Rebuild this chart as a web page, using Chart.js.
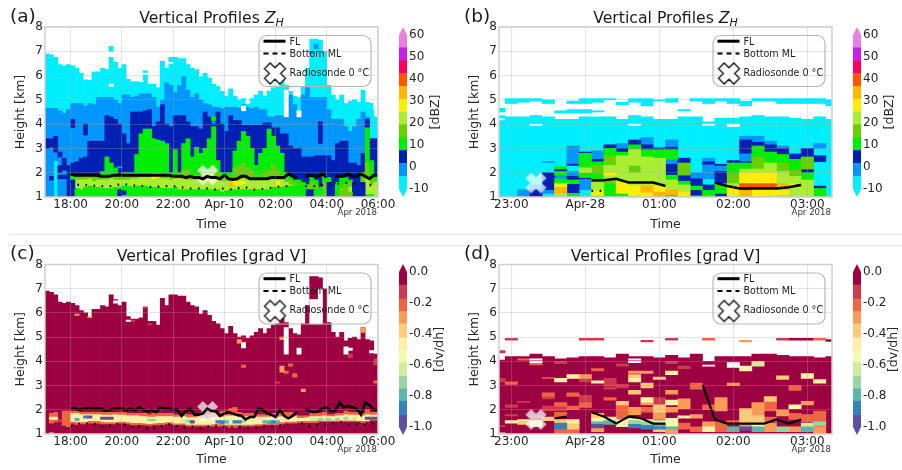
<!DOCTYPE html>
<html>
<head>
<meta charset="utf-8">
<title>Vertical Profiles</title>
<script src="https://cdn.jsdelivr.net/npm/chart.js@4/dist/chart.umd.min.js"></script>
<style>
  html, body { margin: 0; padding: 0; background: #fff; }
  body { position: relative; width: 902px; height: 470px; overflow: hidden; }
  canvas { position: absolute; }
  .rule { position: absolute; left: 10px; right: 0; height: 1px; background: #e6e6e6; }
</style>
</head>
<body>
<div class="rule" style="top:234px"></div>
<div class="rule" style="top:245px"></div>
<canvas id="panelA" width="400" height="235" style="left:0;top:0"></canvas>
<canvas id="barA" width="50" height="235" style="left:395px;top:0"></canvas>
<canvas id="panelB" width="403" height="235" style="left:451px;top:0"></canvas>
<canvas id="barB" width="53" height="235" style="left:849px;top:0"></canvas>
<canvas id="panelC" width="400" height="235" style="left:0;top:235px"></canvas>
<canvas id="barC" width="50" height="235" style="left:395px;top:235px"></canvas>
<canvas id="panelD" width="403" height="235" style="left:451px;top:235px"></canvas>
<canvas id="barD" width="53" height="235" style="left:849px;top:235px"></canvas>
<script>
// colour levels, same order as the colourbars (bottom to top for Z_H, top to bottom for grad V)
const zhColors = ['#00eeff', '#0096ff', '#0020b4', '#00ee00', '#66d000', '#aaee33', '#ffee00', '#ffb800', '#ff5500', '#ff0060', '#c820e8', '#e880e0', '#ffffff'];
const gradColors = ['#9e0142', '#ce3a4d', '#ee6445', '#fa9c58', '#fdca79', '#fef0a7', '#f3faad', '#d0ec9c', '#98d5a4', '#5cb7aa', '#3682ba', '#5e4fa2', '#ffffff'];
const zhBounds = [-10, -4.2, 1.7, 7.5, 13.3, 19.2, 25, 30.8, 36.7, 42.5, 48.3, 54.2, 60];
const gradBounds = [0, -0.08, -0.17, -0.25, -0.33, -0.42, -0.5, -0.58, -0.67, -0.75, -0.83, -0.92, -1];
const GAP = 12;

// time axes, minutes from midnight
const longTickValues = [-360, -240, -120, 0, 120, 240, 360];
const longTickLabels = ['18:00', '20:00', '22:00', 'Apr-10', '02:00', '04:00', '06:00'];
const shortTickValues = [-60, 0, 60, 120, 180];
const shortTickLabels = ['23:00', 'Apr-28', '01:00', '02:00', '03:00'];

// long event (a, c): 78 ten-minute columns, tops of each band in km
const echoTop = [6.9,6.85,6.75,6.45,6.4,6.45,6.4,6.3,6.1,6.0, 5.8,6.15,6.15,6.3,6.25,6.75,6.55,6.3,6.45,5.85,
  5.75,5.75,5.8,6.2,5.65,5.65,5.5,6.6,6.3,6.75, 6.75,6.7,6.7,6.45,6.3,6.25,5.95,6.1,5.9,5.65,
  5.55,5.35,5.15,5.45,5.15,5.0,5.05,4.95,5.05,5.2, 5.35,5.15,5.35,5.5,5.55,5.8,5.6,5.35,5.15,5.1,
  5.55,6.3,7.5,7.5,7.45,7.0,5.6,5.2,5.0,5.2, 4.85,4.95,5.0,4.9,5.4,4.9,4.85,4.3];
const aBlueTop = [4.65,4.65,4.65,4.55,4.45,4.6,4.85,4.85,4.85,4.75, 4.85,4.8,5.1,5.1,5.1,5.1,5.0,4.85,5.2,5.2,
  5.1,5.15,5.25,5.25,5.25,5.1,4.7,5.0,5.7,5.6, 5.3,5.6,5.95,5.4,5.1,5.25,5.0,4.85,4.8,4.7,
  4.7,4.65,4.7,4.7,4.7,4.65,4.8,4.7,4.65,4.7, 4.6,4.6,4.3,4.3,4.35,4.35,4.8,5.2,4.8,4.3,
  5.2,5.5,5.1,5.1,5.1,5.1,4.6,4.2,4.2,4.2, 3.9,3.7,3.9,4.2,4.5,4.3,3.4,3.4];
const aNavyTop = [1,1,1,1,1,2.3,2.4,2.45,2.6,2.65, 3.3,3.3,3.3,3.3,4.35,4.3,4.2,4.0,3.6,3.2,
  4.5,4.5,4.5,4.55,4.6,3.9,4.1,4.8,4.0,3.9, 4.35,4.35,4.35,4.1,3.9,3.9,3.8,4.5,4.3,4.0,
  4.5,4.0,3.7,4.35,4.15,4.15,3.95,3.95,3.95,3.95, 3.95,4.05,4.05,3.85,3.85,3.6,3.6,3.1,3.0,3.0,
  2.65,2.65,2.65,2.7,2.7,2.7,2.7,2.5,3.2,3.3, 3.3,2.4,2.4,2.3,2.8,4.2,3.4,3.4];
const aGreenTop = [1,1,1,1,1,1,1.85,1.85,1.85,1.85, 1.85,1.85,1.85,2.05,2.65,2.4,2.2,1.9,2,2,
  2,2.75,3.6,3.8,3.8,3.4,3.35,3.3,3.2,2, 2.95,2,3.2,3.4,2.65,3.05,2.8,3,3.4,3.9,
  2.5,2,2,2,2.9,3.3,3.7,3.5,3,2.3, 2.8,3,3.8,3.5,3.1,2.8,2,1.9,1.7,1.7,
  1.6,1.5,1.8,1.7,1.4,1.9,1.8,1.3,1.6,1.8, 1.8,1.7,1.3,1.3,2,3.85,2.5,1.9];
const aMidTop = [1,1,1,1,1,1,1,1.85,1.85,1.85, 1.85,1.8,1.8,1.85,1.8,1.9,1.85,1.85,1.85,1.85,
  1.85,1.9,1.95,1.95,1.95,1.9,1.9,1.9,1.9,1.85, 1.9,1.95,2.1,2.1,1.9,1.9,1.9,2,2.1,2.3,
  2,1.9,1.85,1.85,2.2,2.3,2.4,2.2,2.1,1.9, 1.9,2,2.1,2.3,2.1,1.9,1.8,1.7,1.6,1.5,
  1.5,1.5,1.6,1.5,1.4,1.6,1.5,1.3,1.3,1.4, 1.5,1.6,1.3,1.3,1.8,2.4,1.7,1.7];
const aLimeTop = [1,1,1,1,1,1,1,1.7,1.7,1.7, 1.75,1.65,1.7,1.7,1.7,1.75,1.7,1.7,1.7,1.7,
  1.75,1.75,1.8,1.8,1.8,1.75,1.75,1.75,1.75,1.7, 1.75,1.75,1.75,1.7,1.7,1.7,1.7,1.7,1.7,1.75,
  1.7,1.65,1.65,1.65,1.75,1.75,1.75,1.7,1.7,1.7, 1.7,1.7,1.7,1.75,1.7,1.7,1.6,1.5,1,1,
  1,1,1,1,1,1,1,1,1,1.3, 1.3,1.4,1,1,1.3,1.8,1.5,1.6];
const aLowTop = [1,1,1,1,1,1,1,1.35,1.3,1.4, 1.45,1.4,1.4,1.35,1.35,1.35,1.4,1.4,1.45,1.45,
  1.4,1.45,1.45,1.45,1.4,1.4,1.4,1.35,1.35,1.35, 1.4,1.3,1.3,1.3,1.3,1.3,1.3,1.3,1.3,1.3,
  1.3,1.2,1.25,1.3,1.3,1.3,1.3,1.3,1.3,1.3, 1.3,1.3,1.3,1.4,1.4,1.4,1.45,1.45,1.45,1.45,
  1.5,1,1,1,1,1,1,1,1,1, 1,1,1,1,1,1.1,1.1,1];
// [column, bottom, top, level]
const aPatches = [
  [0,3.0,3.4,2],[1,3.05,3.4,2],[2,2.85,3.5,2],[3,2.65,2.85,2],[4,2.1,2.6,2],[3,2.0,2.3,2],
  [0,1,3.0,1],[1,1,3.05,1],[1,1.7,1.85,2],[2,2.5,2.85,1],[2,1,2.5,0],[3,1,1.9,1],[3,1.9,2.0,1],[3,1.75,1.9,2],[4,1.75,1.9,2],[4,1,1.75,1],[4,1.9,2.1,1],
  [6,1,1.7,2],[7,1,1.3,3],[6,3.85,4.2,2],[9,3.55,4.0,2],[10,1,1.4,3],[17,1,1.3,2],[18,1.1,1.25,2],
  [17,2.2,2.25,1],[25,1.75,1.95,6],[26,1.8,1.95,6],[39,4.15,4.3,3],[15,5.55,5.65,12],[9,5.85,6.0,12],[15,7.0,7.2,0],[11,6.4,6.5,12],
  [29,6.5,6.55,12],[23,6.05,6.1,12],[22,5.75,5.8,12],[44,1.5,1.65,6],[45,1.5,1.65,6],[43,1.45,1.6,7],[46,1.55,1.65,6],
  [54,1.5,1.65,6],[60,1,1.45,3],[61,1,1.3,2],[62,1,1.3,2],[63,1,1.3,3],[64,1,1.4,3],[66,1,1.6,2],[67,1,1.6,2],[68,1,1.5,3],[69,1,1.3,4],
  [70,1,1.5,4],[71,1,1.2,4],[72,1,1.6,2],[73,1,1.6,2],[74,1,1.6,2],[64,3.2,4.1,2],[63,7.1,7.3,1],[62,6.9,7.0,1],
  [47,4.85,4.95,12],[46,4.55,4.75,12],[56,4.3,5.4,12],[59,4.3,4.55,12],[56,5.4,5.6,0],[76,4.5,4.85,0],[77,4.6,5.0,12]
];
// long event, grad V melting layer band: outer and inner limits per column
const cOuterHi = [1,1.85,1.9,1,1.95,1.95,1.95,1.95,1.9,1.9, 1.9,1.9,1.9,1.9,1.9,1.9,1.9,1.9,1.9,1.85,
  1.85,1.85,1.85,1.85,1.8,1.85,1.85,1.85,1.85,1.85, 1.8,1.8,1.85,1.8,1.8,1.8,1.75,1.75,1.8,1.85,
  1.85,1.95,1.95,2.05,2.1,1.9,1.85,1.85,1.85,1.8, 1.8,1.8,1.8,1.85,1.85,1.85,1.9,1.9,1.85,1.75,
  1.75,1.75,1.85,1.85,1.85,1.9,1.8,1.8,1.85,1.85, 1.95,1.9,1.9,1.9,1.85,2,1.9,1.9];
const cOuterLo = [1,1.45,1.5,1,1.35,1.3,1.45,1.4,1.42,1.42, 1.45,1.45,1.45,1.42,1.42,1.42,1.42,1.45,1.45,1.42,
  1.37,1.37,1.37,1.37,1.35,1.37,1.37,1.37,1.42,1.42, 1.37,1.37,1.37,1.32,1.32,1.32,1.32,1.32,1.32,1.32,
  1.32,1.32,1.32,1.27,1.27,1.32,1.32,1.32,1.32,1.35, 1.35,1.37,1.37,1.37,1.37,1.42,1.45,1.45,1.45,1.47,
  1.47,1.47,1.47,1.47,1.52,1.52,1.52,1.52,1.52,1.52, 1.52,1.52,1.52,1.52,1.47,1.52,1.57,1.57];
const cInnerHi = [1,1.7,1.7,1,1,1,1.85,1.85,1.8,1.8, 1.8,1.8,1.8,1.78,1.78,1.78,1.8,1.78,1.78,1.75,
  1.75,1.75,1.72,1.72,1.7,1.7,1.72,1.72,1.72,1.72, 1.7,1.7,1.72,1.68,1.68,1.68,1.65,1.65,1.65,1.68,
  1.7,1.7,1.75,1.75,1.75,1.7,1.7,1.72,1.72,1.7, 1.7,1.7,1.7,1.72,1.7,1.72,1.72,1.72,1.72,1.65,
  1.65,1.68,1.72,1.72,1.72,1.75,1.72,1.72,1.75,1.75, 1.8,1.78,1.78,1.78,1.75,1.8,1.78,1.78];
const cInnerLo = [1,1.6,1.6,1,1,1,1.52,1.5,1.5,1.5, 1.55,1.55,1.55,1.52,1.5,1.5,1.5,1.52,1.52,1.5,
  1.47,1.47,1.47,1.45,1.43,1.45,1.47,1.47,1.5,1.5, 1.45,1.45,1.45,1.4,1.4,1.4,1.4,1.4,1.4,1.42,
  1.42,1.42,1.4,1.4,1.4,1.4,1.4,1.4,1.4,1.42, 1.42,1.45,1.47,1.47,1.47,1.5,1.52,1.52,1.52,1.55,
  1.55,1.55,1.55,1.57,1.57,1.57,1.57,1.57,1.57,1.57, 1.57,1.57,1.57,1.55,1.55,1.55,1.6,1.6];
const cPatches = [
  [7,1.55,1.65,9],[9,1.65,1.75,10],[10,1.65,1.75,11],[13,1.6,1.7,11],[14,1.6,1.7,11],[15,1.6,1.7,11],[24,1.55,1.62,8],[25,1.55,1.62,8],
  [32,1.5,1.6,7],[33,1.48,1.58,8],[34,1.45,1.55,11],[40,1.45,1.55,10],[41,1.42,1.55,10],[42,1.45,1.55,9],[44,1.45,1.55,10],[45,1.45,1.55,10],[46,1.48,1.58,8],
  [51,1.47,1.55,9],[52,1.47,1.55,9],[53,1.47,1.55,10],[54,1.47,1.55,9],[62,1.57,1.65,7],[63,1.57,1.65,7],[64,1.57,1.65,8],[65,1.57,1.65,7],[66,1.57,1.65,8],
  [68,1.58,1.65,8],[70,1.6,1.68,8],[72,1.6,1.68,7],[75,1.6,1.7,11],[76,1.6,1.7,11],[77,1.6,1.7,11],
  [1,1,1.05,7],[3,1.5,1.6,1],[7,5.9,5.95,3],[10,5.8,5.85,3],[23,6.2,6.25,1],[24,5.5,5.55,1],[19,5.65,5.7,12],[20,5.65,5.7,1],
  [16,6.4,6.5,12],[45,4.75,4.9,3],[46,4.75,4.8,3],[46,4.55,4.75,12],[46,3.75,3.85,2],[56,4.3,5.4,12],[59,4.3,4.55,12],[55,4.9,5.0,3],
  [55,3.55,3.8,3],[56,3.5,3.6,2],[57,3.8,3.9,2],[58,3.35,3.5,2],[54,3.1,3.15,1],[60,2.75,2.85,3],
  [62,5.55,6.55,12],[63,5.55,6.55,12],[64,5.55,7.0,12],[70,4.3,4.6,12],[71,4.15,4.3,1],[71,4.45,4.55,12],[74,5.2,5.4,3],[76,4.35,4.45,12],[77,3.85,4.1,1],[77,3.1,3.2,2]
];
const longMlTimes = [-360,-350,-340,-330,-320,-310,-300,-290,-280,-270,-260,-250,-240,-230,-220,-210,-200,-190,-180,-170,-160,-150,-140,-130,-120,-110,-100,-90,-80,-70,-60,-50,-40,-30,-20,-10,0,10,20,30,40,50,60,70,80,90,100,110,120,130,140,150,160,170,180,190,200,210,220,230,240,250,260,270,280,290,300,310,320,330,340,350,360];
const aFreezing = [1.95,1.9,1.9,1.9,1.9,1.9,1.9,1.85,1.85, 1.85,1.9,1.9,1.9,1.9,1.9,1.9,1.9,1.9,1.9,1.9,1.9,1.9,1.9,1.9,
  1.85,1.85,1.85,1.8,1.85,1.8,1.8,1.75,1.85,1.8,1.8,1.75, 1.9,1.75,1.72,1.75,1.85,1.85,1.75,1.75,1.75,1.75,1.75,1.8,1.8,1.8,1.8,1.95,1.85,1.8,
  null,1.85,1.9,1.85,1.85,1.95,1.8,null,1.85,1.85,1.85,1.95,1.85,1.85,1.95,1.85,1.75,1.9,1.9];
const aBottomMl = [1.65,1.5,1.5,1.5,1.48,1.48,1.45,1.45,1.45,1.45,1.45,1.5,1.55,1.52,1.5,1.47,1.45,1.45,1.43,1.4,1.42,1.43,1.45,1.45,1.45,1.42,1.4,1.37,1.35,1.35,1.35,1.35,1.35,1.33,1.3,1.35,1.35,1.33,1.3,1.35,1.4,1.4,1.35,1.3,1.3,1.33,1.36,1.38,1.4,1.43,1.45,1.45,1.45,null,null,1.45,1.45,1.45,1.45,1.5,1.55,1.55,1.55,1.55,1.57,1.6,1.57,1.55,1.55,1.52,1.5,1.45,1.45];
const cFreezing = [2.05,2.05,2.0,2.05,2.05,2.05,2.05,2.05,1.97, 1.97,2.05,2.05,2.05,1.97,2.05,1.97,2.1,2.0,1.93,1.98,1.9,2.1,2.05,2.05,2.0,2.0,1.75,1.95,2.05,1.8,1.8,1.85,2.05,1.95,1.95,1.75,1.85,1.9,
  1.85,1.78,1.75,1.6,1.7,1.7,2.05,2.0,1.85,1.8,1.7,2.0,1.75,1.65,1.75,1.9,null,2.05,1.95,1.9,1.95,2.05,2.1,1.95,1.95,2.3,2.1,2.15,2.1,2.05,1.8,2.3,2.2,2.0,2.0];
const cBottomMl = [1.32,1.35,1.43,1.45,1.43,1.38,1.42,1.3,1.35,1.38,1.32,1.42,1.45,1.35,1.25,1.37,1.32,1.25,1.22,1.3,1.22,1.3,1.42,1.4,1.35,1.32,1.3,1.25,1.3,1.3,1.25,1.22,1.3,1.35,1.35,1.32,1.3,1.25,1.28,1.3,1.3,1.27,1.25,1.22,1.25,1.3,1.32,1.32,1.32,1.35,1.38,1.38,null,null,1.45,1.42,1.32,1.35,1.38,1.38,1.38,1.42,1.45,1.5,1.48,1.38,1.42,1.42,1.38,1.38,1.4,1.45,1.5];

// short event (b, d): columns centred on 22:50 + 10 min * index
const bTop = [4.15,4.3,4.3,4.35,4.3,4.2,4.2,4.3,4.3,4.3,4.2,4.35,4.3,4.2,4.2,4.3,4.3,4.1,4.25,4.25,4.3,4.35,4.3,4.3,4.25,4.2,4.3,4.2];
const bPatches = [
  [0,4.25,4.35,0],[0,4.5,4.65,0],[1,4.85,5.05,0],[2,4.9,5.05,0],[3,4.95,5.05,0],[4,4.85,5,0],[5,4.45,4.55,0],[6,4.45,4.6,0],[6,4.85,4.95,0],[7,4.45,4.6,0],[7,4.85,5.05,0],
  [8,4.9,5.05,0],[8,4.5,4.55,0],[9,5,5.05,0],[10,4.8,4.9,0],[11,4.9,5.05,0],[12,4.75,5.05,0],[13,4.95,5,0],[14,4.9,5.05,0],[15,4.55,4.6,0],[16,4.95,5.05,0],[17,4.85,5.05,0],[18,4.95,5.05,0],
  [19,4.85,5.05,0],[20,4.75,4.95,0],[21,4.95,5.05,0],[22,4.95,5.05,0],[23,4.85,5.05,0],[24,4.85,5.05,0],[25,4.85,5.05,0],[26,4.85,5.05,0],[27,4.75,5,0],
  [3,3.95,4.0,GAP],[11,3.95,4.0,GAP],[17,3.95,4.0,GAP],[19,3.9,4.0,GAP],
  [2,1,1.3,1],[3,1,1.3,2],[3,1.3,1.5,1],[4,1.15,1.3,1],[4,1.3,2,2],[4,2.42,2.46,1],
  [5,1,1.15,5],[5,1.15,1.4,7],[5,1.4,1.55,6],[5,1.55,1.75,3],[5,1.75,1.9,1],[5,1.9,2.05,3],[5,2.05,2.15,2],[5,2.15,2.25,3],
  [6,1,1.15,3],[6,1.15,1.55,2],[6,1.55,1.7,3],[6,1.7,1.85,2],[6,1.85,2.05,1],[6,2.3,2.35,2],[6,2.35,3.1,1],
  [7,1.3,1.75,1],[7,1.75,1.8,2],[7,1.8,2,3],[7,2,2.2,5],[7,2.2,2.8,3],[7,2.8,2.85,2],
  [8,1,1.05,3],[8,1.05,1.25,6],[8,1.25,1.6,5],[8,1.6,2,3],[8,2,2.3,4],[8,2.3,2.45,3],[8,2.45,2.55,2],[8,2.55,2.9,1],
  [9,1,1.55,3],[9,1.55,1.7,4],[9,1.7,1.9,5],[9,1.9,2,6],[9,2,2.3,5],[9,2.3,2.7,4],[9,2.7,3,3],[9,3,3.15,2],
  [10,1,1.15,3],[10,1.15,1.6,6],[10,1.6,2.7,5],[10,2.7,2.85,3],[10,2.85,3,2],[10,3,3.2,1],
  [11,1,1.05,4],[11,1.05,1.45,6],[11,1.45,2,5],[11,2,2.3,4],[11,2.3,2.95,5],[11,2.95,3.15,3],[11,3.15,3.35,2],
  [12,1,1.2,6],[12,1.2,1.45,7],[12,1.45,2.65,5],[12,2.65,2.95,3],[12,2.95,3.15,2],[12,3.15,3.45,1],
  [13,1,1.2,7],[13,1.2,1.45,6],[13,1.45,2.6,5],[13,2.6,2.95,3],[13,2.95,3,2],[13,3,3.05,1],
  [14,1,1.1,3],[14,1.1,1.3,7],[14,1.3,1.7,5],[14,1.7,1.9,3],[14,1.9,2.35,2],[14,2.35,2.55,1],[14,2.55,2.95,3],[14,2.95,3.05,2],[14,3.05,3.35,1],
  [15,1,1.2,6],[15,1.2,1.5,5],[15,1.5,1.65,3],[15,1.65,1.9,2],[15,1.9,2.4,4],[15,2.4,2.6,2],
  [16,1,1.05,3],[16,1.05,1.3,2],[16,1.3,1.45,3],[16,1.45,1.75,2],[16,1.75,2,1],
  [17,1,1.27,3],[17,1.27,1.5,2],[17,1.75,2.35,1],[17,2.35,2.45,2],[17,2.45,2.6,1],
  [18,1,1.15,2],[18,1.15,1.55,3],[18,1.55,2.05,2],[18,2.05,2.3,1],[18,2.3,2.35,2],
  [19,1,1.4,6],[19,1.4,1.55,5],[19,1.55,1.95,4],[19,1.95,2.4,3],[19,2.4,2.5,2],
  [20,1,1.3,7],[20,1.3,1.55,8],[20,1.55,2,6],[20,2,2.15,5],[20,2.15,2.4,3],[20,2.4,2.45,2],[20,2.45,2.8,1],[20,2.8,3.35,2],[20,3.35,3.5,1],
  [21,1,1.35,6],[21,1.35,1.55,8],[21,1.55,2,6],[21,2,2.15,5],[21,2.15,2.65,4],[21,2.65,3.1,3],[21,3.1,3.25,2],[21,3.25,3.5,1],
  [22,1,1.35,6],[22,1.35,1.55,8],[22,1.55,2,6],[22,2,2.4,5],[22,2.4,2.85,3],[22,2.85,3.15,2],[22,3.15,3.3,1],
  [23,1,1.1,5],[23,1.1,1.3,6],[23,1.3,1.55,7],[23,1.55,2.05,5],[23,2.05,2.4,4],[23,2.4,2.75,3],[23,2.75,3,2],[23,3,3.1,1],
  [24,1,1.4,5],[24,1.4,1.55,6],[24,1.55,1.85,5],[24,1.85,2.1,4],[24,2.1,2.55,3],[24,2.55,2.75,2],[24,2.75,2.8,1],
  [25,1,1.7,5],[25,1.7,2,3],[25,2,2.15,2],[25,2.15,2.65,4],[25,2.65,3,2],
  [26,1,1.35,3],[26,1.35,1.45,2],[26,2.45,2.7,2],[26,3,3.2,1]
];
const dTop = [4.05,4.2,4.2,4.3,4.2,4.1,4.15,4.2,4.2,4.15,4.3,4.2,4.2,4.15,4.25,4.15,4.3,4.0,4.2,4.2,4.2,4.3,4.3,4.25,4.2,4.2,4.15,4.2];
const dPatches = [
  [0,4.35,4.45,1],[1,4.87,4.95,1],[7,4.87,4.95,1],[8,4.87,4.95,1],[12,4.8,4.87,1],[14,4.87,4.95,1],[17,4.87,4.95,2],[20,4.8,4.87,3],
  [23,4.87,4.95,1],[24,4.87,4.95,0],[25,4.87,4.95,0],[26,4.87,4.95,2],[27,4.82,4.9,0],
  [0,3.15,3.3,1],[0,1.3,1.35,1],[0,1,1.05,5],
  [1,3.05,3.15,2],[1,2.1,2.2,1],[1,1.75,1.8,1],[1,1.45,1.55,5],
  [2,4.05,4.1,2],[2,2.3,2.35,1],[2,1.4,1.55,4],[2,1.55,1.6,5],
  [3,4.05,4.1,GAP],[3,3.95,4,GAP],[3,3.85,3.95,2],[3,1.7,1.75,1],[3,1.3,1.55,5],
  [4,3.3,3.33,2],[4,2.55,2.7,2],[4,2.45,2.55,1],[4,1.95,2.15,1],[4,1.55,1.7,4],
  [5,3.9,4,1],[5,3.15,3.3,5],[5,2.15,2.3,2],[5,1.95,2.15,1],[5,1.7,1.9,2],[5,1.45,1.6,4],[5,1.2,1.45,10],[5,1,1.2,2],
  [6,3.3,3.45,5],[6,2.55,2.7,2],[6,2,2.15,2],[6,1.45,1.6,5],[6,1.2,1.45,4],[6,1,1.2,2],
  [7,3.3,3.45,3],[7,3.15,3.3,1],[7,2.3,2.6,1],[7,2.1,2.3,2],
  [8,3.6,3.7,2],[8,3.1,3.2,5],[8,1.65,1.85,4],[8,1.5,1.65,5],[8,1.4,1.5,9],[8,1.25,1.4,11],[8,1.1,1.25,3],
  [9,3,3.3,1],[9,2.85,2.95,1],[9,2.4,2.5,2],[9,1.55,1.7,5],[9,1.4,1.55,9],
  [10,3.8,3.9,1],[10,2.9,3.05,1],[10,2.2,2.35,4],[10,1.9,2.2,2],[10,1.6,1.9,2],[10,1.3,1.6,5],
  [11,4.05,4.1,GAP],[11,3.95,4,GAP],[11,3.5,3.6,3],[11,3.3,3.45,4],[11,3.15,3.3,5],[11,2.65,2.8,4],[11,1.8,2.1,3],[11,1.55,1.65,5],[11,1.4,1.55,8],[11,1.25,1.4,10],
  [12,3.5,3.6,3],[12,2.9,3.1,4],[12,2.3,2.5,5],[12,2.2,2.3,3],[12,1.9,2.1,2],[12,1.5,1.6,5],[12,1.35,1.5,8],[12,1.2,1.35,10],
  [13,3.25,3.35,4],[13,2.2,2.5,1],[13,1.9,2.2,4],[13,1.6,1.9,3],[13,1.4,1.55,5],[13,1.3,1.4,9],[13,1.2,1.3,10],[13,1.1,1.2,4],
  [14,3.9,4,1],[14,3.45,3.6,5],[14,2.65,2.8,3],[14,2.2,2.4,5],[14,1.9,2.1,3],[14,1.3,1.65,6],[14,1.2,1.3,9],[14,1.05,1.2,3],
  [15,3.7,3.8,1],[15,2.05,2.45,3],[15,1.65,1.75,5],[15,1.2,1.45,2],
  [16,2.85,3.1,2],[16,1.65,1.8,3],[16,1.1,1.3,2],
  [17,3.8,3.85,GAP],[17,2,2.2,2],[17,1.3,1.5,3],[17,1.1,1.3,5],
  [18,1.95,2.5,3],[18,1.1,1.5,2],
  [19,3.75,3.95,GAP],[19,3,3.1,3],[19,1.4,1.55,2],[19,1.1,1.3,9],
  [20,3.6,3.8,5],[20,1.45,2.05,4],[20,1.3,1.45,3],[20,1.15,1.3,11],
  [21,3.8,4,7],[21,1.75,2.3,3],[21,1.45,1.75,4],[21,1.3,1.4,5],[21,1.1,1.3,9],
  [22,2.35,2.55,4],[22,1.95,2.35,2],[22,1.1,1.45,3],[22,1.5,1.7,2],
  [23,3.25,3.4,4],[23,1.75,2,3],[23,1.1,1.3,8],
  [24,2.8,3,2],[24,2.05,2.2,6],[24,1.1,1.3,3],[24,1.6,1.85,2],
  [25,3.3,3.5,5],[25,2.2,2.35,3],[25,1.3,1.45,7],[25,1.1,1.3,9],[25,1.5,1.8,2],
  [26,3.1,3.25,5],[26,1.3,1.95,2],[26,1.35,1.5,8],[26,1,1.3,3]
];
const bFreezingTimes = [5,15,25,35,45,55,65,75,85,95,105,115,125,135,145,155,165,175];
const bFreezing = [1.69,1.69,1.75,1.6,1.6,1.6,1.45,null,null,null,1.6,1.45,1.35,1.35,1.35,1.35,1.4,1.5];
const bBottomMlTimes = [5,15];
const bBottomMl = [1.25,1.25];
const dFreezingTimes = [-25,-15,-5,5,15,25,35,45,55,65,75,85,95,105,115,125,135,145,155,165,175];
const dFreezing = [1.65,1.72,null,1.9,1.72,1.43,1.72,1.65,1.43,1.43,null,null,3.03,1.6,1.43,1.43,1.43,1.43,1.6,1.43,1.6];

// radiosonde 0 degC crossing: [minutes, km]
const sondeA = [-39, 1.9];
const sondeB = [-40, 1.58];
const sondeC = [-39, 1.93];
const sondeD = [-40, 1.6];

// filled X marker used for the radiosonde point and in the legend
function xMarker(size, fill, stroke) {
  const c = document.createElement('canvas');
  c.width = c.height = size + 4;
  const g = c.getContext('2d');
  const m = (size + 4) / 2, a = size / 2, t = size * 0.27;
  g.beginPath();
  [[-a, -a + t], [-a + t, -a], [0, -t], [a - t, -a], [a, -a + t], [t, 0], [a, a - t], [a - t, a], [0, t], [-a + t, a], [-a, a - t], [-t, 0]]
    .forEach(function (p, i) { i ? g.lineTo(m + p[0], m + p[1]) : g.moveTo(m + p[0], m + p[1]); });
  g.closePath();
  g.fillStyle = fill;
  g.fill();
  if (stroke) { g.strokeStyle = stroke; g.lineWidth = 1.3; g.stroke(); }
  return c;
}
const legendX = xMarker(21, '#ffffff', '#111111');

function bandSet(label, color, columnX, low, high) {
  const points = [];
  high.forEach(function (top, i) {
    const bottom = Array.isArray(low) ? low[i] : low;
    if (top > bottom) points.push({ x: columnX(i), y: [bottom, top] });
  });
  return { type: 'bar', label: label, data: points, backgroundColor: color, grouped: false, barPercentage: 1, categoryPercentage: 1 };
}

function patchSets(patches, colors, columnX) {
  return colors.map(function (color, level) {
    const points = patches.filter(function (p) { return p[3] === level; })
      .map(function (p) { return { x: columnX(p[0]), y: [p[1], p[2]] }; });
    return { type: 'bar', label: 'cells ' + level, data: points, backgroundColor: color, grouped: false, barPercentage: 1, categoryPercentage: 1 };
  });
}

function lineSet(label, times, values, width, dash) {
  return {
    type: 'line', label: label, data: times.map(function (t, i) { return { x: t, y: values[i] }; }),
    borderColor: '#000', borderWidth: width, borderDash: dash || [], pointRadius: 0, spanGaps: false, fill: false, tension: 0
  };
}

function sondeSet(point, tint) {
  return {
    type: 'line', label: 'Radiosonde 0 °C', data: [{ x: point[0], y: point[1] }], showLine: false,
    pointStyle: xMarker(21, tint, null), pointRadius: 12, clip: false
  };
}

// letter, title, legend and frame, all placed from the chart area
function decor(p) {
  return {
    id: 'decor',
    afterDraw: function (chart) {
      const ctx = chart.ctx, area = chart.chartArea;
      ctx.save();
      ctx.strokeStyle = '#cfcfcf';
      ctx.lineWidth = 1.5;
      ctx.strokeRect(area.left, area.top, area.right - area.left, area.bottom - area.top);

      ctx.fillStyle = '#1a1a1a';
      ctx.textBaseline = 'middle';
      ctx.textAlign = 'left';
      ctx.font = '18.5px "DejaVu Sans"';
      ctx.fillText(p.letter, p.letterX, p.titleY - 2);

      const mid = (area.left + area.right) / 2;
      ctx.font = '15.7px "DejaVu Sans"';
      if (p.subscript) {
        const w1 = ctx.measureText(p.title + ' ').width;
        ctx.font = 'italic 15.7px "DejaVu Sans"';
        const w2 = ctx.measureText('Z').width;
        ctx.font = 'italic 11px "DejaVu Sans"';
        const w3 = ctx.measureText('H').width;
        const x = mid - (w1 + w2 + w3) / 2;
        ctx.font = '15.7px "DejaVu Sans"';
        ctx.fillText(p.title + ' ', x, p.titleY);
        ctx.font = 'italic 15.7px "DejaVu Sans"';
        ctx.fillText('Z', x + w1, p.titleY);
        ctx.font = 'italic 11px "DejaVu Sans"';
        ctx.fillText('H', x + w1 + w2, p.titleY + 4);
      } else {
        ctx.textAlign = 'center';
        ctx.fillText(p.title, mid, p.titleY);
      }

      ctx.textAlign = 'right';
      ctx.font = '8.6px "DejaVu Sans"';
      ctx.fillStyle = '#333';
      ctx.fillText('Apr 2018', area.right - 1, area.bottom + 16);

      // legend box, no fill so the data shows through
      const bx = area.right - 119, by = area.top + 8.5;
      ctx.strokeStyle = '#b8b8b8';
      ctx.lineWidth = 1.2;
      ctx.beginPath();
      ctx.roundRect(bx, by, 112, 51, 8);
      ctx.stroke();
      ctx.strokeStyle = '#000';
      ctx.lineWidth = 3;
      ctx.beginPath(); ctx.moveTo(bx + 4.5, by + 5.7); ctx.lineTo(bx + 26.5, by + 5.7); ctx.stroke();
      ctx.lineWidth = 2;
      ctx.setLineDash([5, 4]);
      ctx.beginPath(); ctx.moveTo(bx + 4.5, by + 18); ctx.lineTo(bx + 26.5, by + 18); ctx.stroke();
      ctx.setLineDash([]);
      ctx.drawImage(legendX, bx + 3.5, by + 25.5);
      ctx.fillStyle = '#1f1f1f';
      ctx.textAlign = 'left';
      ctx.font = '9.6px "DejaVu Sans"';
      ctx.fillText('FL', bx + 30.5, by + 6.5);
      ctx.fillText('Bottom ML', bx + 30.5, by + 18.5);
      ctx.fillText('Radiosonde 0 °C', bx + 30.5, by + 37.5);
      ctx.restore();
    }
  };
}

function makePanel(id, p) {
  new Chart(document.getElementById(id), {
    type: 'bar',
    data: { datasets: p.datasets.map(function (d, i) { d.order = -i; return d; }) },
    options: {
      responsive: false,
      animation: false,
      layout: { padding: { top: p.top, right: p.right, bottom: 0, left: 0 } },
      plugins: { legend: { display: false }, tooltip: { enabled: false } },
      scales: {
        x: {
          type: 'linear', offset: false, min: p.xMin, max: p.xMax,
          afterBuildTicks: function (scale) { scale.ticks = p.tickValues.map(function (v) { return { value: v }; }); },
          afterFit: function (scale) { scale.height = p.axisHeight; },
          grid: { color: 'rgba(170,170,170,0.3)', lineWidth: 1.1, z: 1, drawTicks: false, offset: false },
          border: { display: false },
          ticks: {
            autoSkip: false, maxRotation: 0, padding: 1, color: '#262626', font: { family: 'DejaVu Sans', size: 12 },
            callback: function (v) { return p.tickLabels[p.tickValues.indexOf(v)]; }
          },
          title: { display: true, text: 'Time', color: '#262626', font: { family: 'DejaVu Sans', size: 12.5 }, padding: { top: 0, bottom: 3 } }
        },
        y: {
          min: 1, max: 8,
          afterFit: function (scale) { scale.width = p.left; },
          grid: { color: 'rgba(170,170,170,0.3)', lineWidth: 1.1, z: 1, drawTicks: false },
          border: { display: false },
          ticks: { stepSize: 1, padding: 2, color: '#262626', font: { family: 'DejaVu Sans', size: 12 } },
          title: { display: true, text: 'Height [km]', color: '#262626', font: { family: 'DejaVu Sans', size: 12.5 }, padding: { top: p.left - 32, bottom: 0 } }
        }
      }
    },
    plugins: [decor(p)]
  });
}

function makeColorbar(id, b) {
  const sets = b.colors.slice(0, 12).map(function (c, i) {
    return { label: 'level ' + i, data: [[b.bounds[i], b.bounds[i + 1]]], backgroundColor: c, grouped: false, barPercentage: 1, categoryPercentage: 1 };
  });
  new Chart(document.getElementById(id), {
    type: 'bar',
    data: { labels: [''], datasets: sets },
    options: {
      responsive: false,
      animation: false,
      layout: { padding: { top: b.top, bottom: b.bottom, left: 4, right: 0 } },
      plugins: { legend: { display: false }, tooltip: { enabled: false } },
      scales: {
        x: { display: false },
        y: {
          position: 'right', min: b.min, max: b.max,
          afterFit: function (scale) { scale.width = b.width - 12; },
          grid: { display: false, drawTicks: false, tickLength: 0 }, border: { display: false },
          ticks: {
            stepSize: b.step, padding: 2, color: '#262626', font: { family: 'DejaVu Sans', size: 12 },
            callback: function (v) { return b.digits ? v.toFixed(b.digits) : String(v); }
          }
        }
      }
    },
    plugins: [{
      id: 'ends',
      afterDraw: function (chart) {
        const ctx = chart.ctx, a = chart.chartArea;
        ctx.save();
        ctx.fillStyle = b.topColor;
        ctx.beginPath(); ctx.moveTo(a.left, a.top); ctx.lineTo(a.right, a.top); ctx.lineTo((a.left + a.right) / 2, a.top - 8); ctx.fill();
        ctx.fillStyle = b.bottomColor;
        ctx.beginPath(); ctx.moveTo(a.left, a.bottom); ctx.lineTo(a.right, a.bottom); ctx.lineTo((a.left + a.right) / 2, a.bottom + 8); ctx.fill();
        ctx.translate(b.labelX, (a.top + a.bottom) / 2);
        ctx.rotate(-Math.PI / 2);
        ctx.fillStyle = '#262626';
        ctx.font = '12.5px "DejaVu Sans"';
        ctx.textAlign = 'center';
        ctx.textBaseline = 'middle';
        ctx.fillText(b.label, 0, 0);
        ctx.restore();
      }
    }]
  });
}

const longColumn = function (i) { return -415 + 10 * i; };
const shortColumn = function (i) { return -70 + 10 * i; };
const longAxis = { xMin: -420, xMax: 360, tickValues: longTickValues, tickLabels: longTickLabels, left: 45, right: 22, letterX: 10 };
const shortAxis = { xMin: -70, xMax: 200, tickValues: shortTickValues, tickLabels: shortTickLabels, left: 48, right: 22, letterX: 13 };
const mlDash = [1.6, 6.5];

document.addEventListener('DOMContentLoaded', function () {
  makePanel('panelA', Object.assign({}, longAxis, {
    letter: '(a)', title: 'Vertical Profiles', subscript: true, titleY: 19, top: 27, axisHeight: 38,
    datasets: [
      bandSet('echo', zhColors[0], longColumn, 1, echoTop),
      bandSet('blue', zhColors[1], longColumn, 1, aBlueTop),
      bandSet('navy', zhColors[2], longColumn, 1, aNavyTop),
      bandSet('green', zhColors[3], longColumn, 1, aGreenTop),
      bandSet('mid', zhColors[4], longColumn, 1, aMidTop),
      bandSet('lime', zhColors[5], longColumn, 1, aLimeTop),
      bandSet('low', zhColors[3], longColumn, 1, aLowTop)
    ].concat(patchSets(aPatches, zhColors, longColumn)).concat([
      sondeSet(sondeA, 'rgba(255,255,255,0.72)'),
      lineSet('FL', longMlTimes, aFreezing, 3),
      lineSet('Bottom ML', longMlTimes, aBottomMl, 2.2, mlDash)
    ])
  }));
  makePanel('panelB', Object.assign({}, shortAxis, {
    letter: '(b)', title: 'Vertical Profiles', subscript: true, titleY: 19, top: 27, axisHeight: 38,
    datasets: [bandSet('echo', zhColors[0], shortColumn, 1, bTop)]
      .concat(patchSets(bPatches, zhColors, shortColumn)).concat([
        sondeSet(sondeB, 'rgba(255,255,255,0.72)'),
        lineSet('FL', bFreezingTimes, bFreezing, 2.6),
        lineSet('Bottom ML', bBottomMlTimes, bBottomMl, 2.2, mlDash)
      ])
  }));
  makePanel('panelC', Object.assign({}, longAxis, {
    letter: '(c)', title: 'Vertical Profiles [grad V]', titleY: 21.5, top: 29.5, axisHeight: 36,
    datasets: [
      bandSet('echo', gradColors[0], longColumn, 1, echoTop),
      bandSet('outer', gradColors[2], longColumn, cOuterLo, cOuterHi),
      bandSet('inner', gradColors[5], longColumn, cInnerLo, cInnerHi)
    ].concat(patchSets(cPatches, gradColors, longColumn)).concat([
      sondeSet(sondeC, 'rgba(255,255,255,0.72)'),
      lineSet('FL', longMlTimes, cFreezing, 2.6),
      lineSet('Bottom ML', longMlTimes, cBottomMl, 2.2, mlDash)
    ])
  }));
  makePanel('panelD', Object.assign({}, shortAxis, {
    letter: '(d)', title: 'Vertical Profiles [grad V]', titleY: 21.5, top: 29.5, axisHeight: 36,
    datasets: [bandSet('echo', gradColors[0], shortColumn, 1, dTop)]
      .concat(patchSets(dPatches, gradColors, shortColumn)).concat([
        sondeSet(sondeD, 'rgba(255,255,255,0.72)'),
        lineSet('FL', dFreezingTimes, dFreezing, 2.2)
      ])
  }));

  const zhBar = { colors: zhColors, bounds: zhBounds, min: -10, max: 60, step: 10, digits: 0, top: 35, bottom: 46, label: '[dBZ]', topColor: zhColors[11], bottomColor: zhColors[0] };
  const gradBar = { colors: gradColors, bounds: gradBounds, min: -1, max: 0, step: 0.2, digits: 1, top: 37, bottom: 43, label: '[dv/dh]', topColor: gradColors[0], bottomColor: gradColors[11] };
  makeColorbar('barA', Object.assign({}, zhBar, { width: 50, labelX: 41 }));
  makeColorbar('barB', Object.assign({}, zhBar, { width: 53, labelX: 41 }));
  makeColorbar('barC', Object.assign({}, gradBar, { width: 50, labelX: 45 }));
  makeColorbar('barD', Object.assign({}, gradBar, { width: 53, labelX: 45 }));
});
</script>
</body>
</html>
